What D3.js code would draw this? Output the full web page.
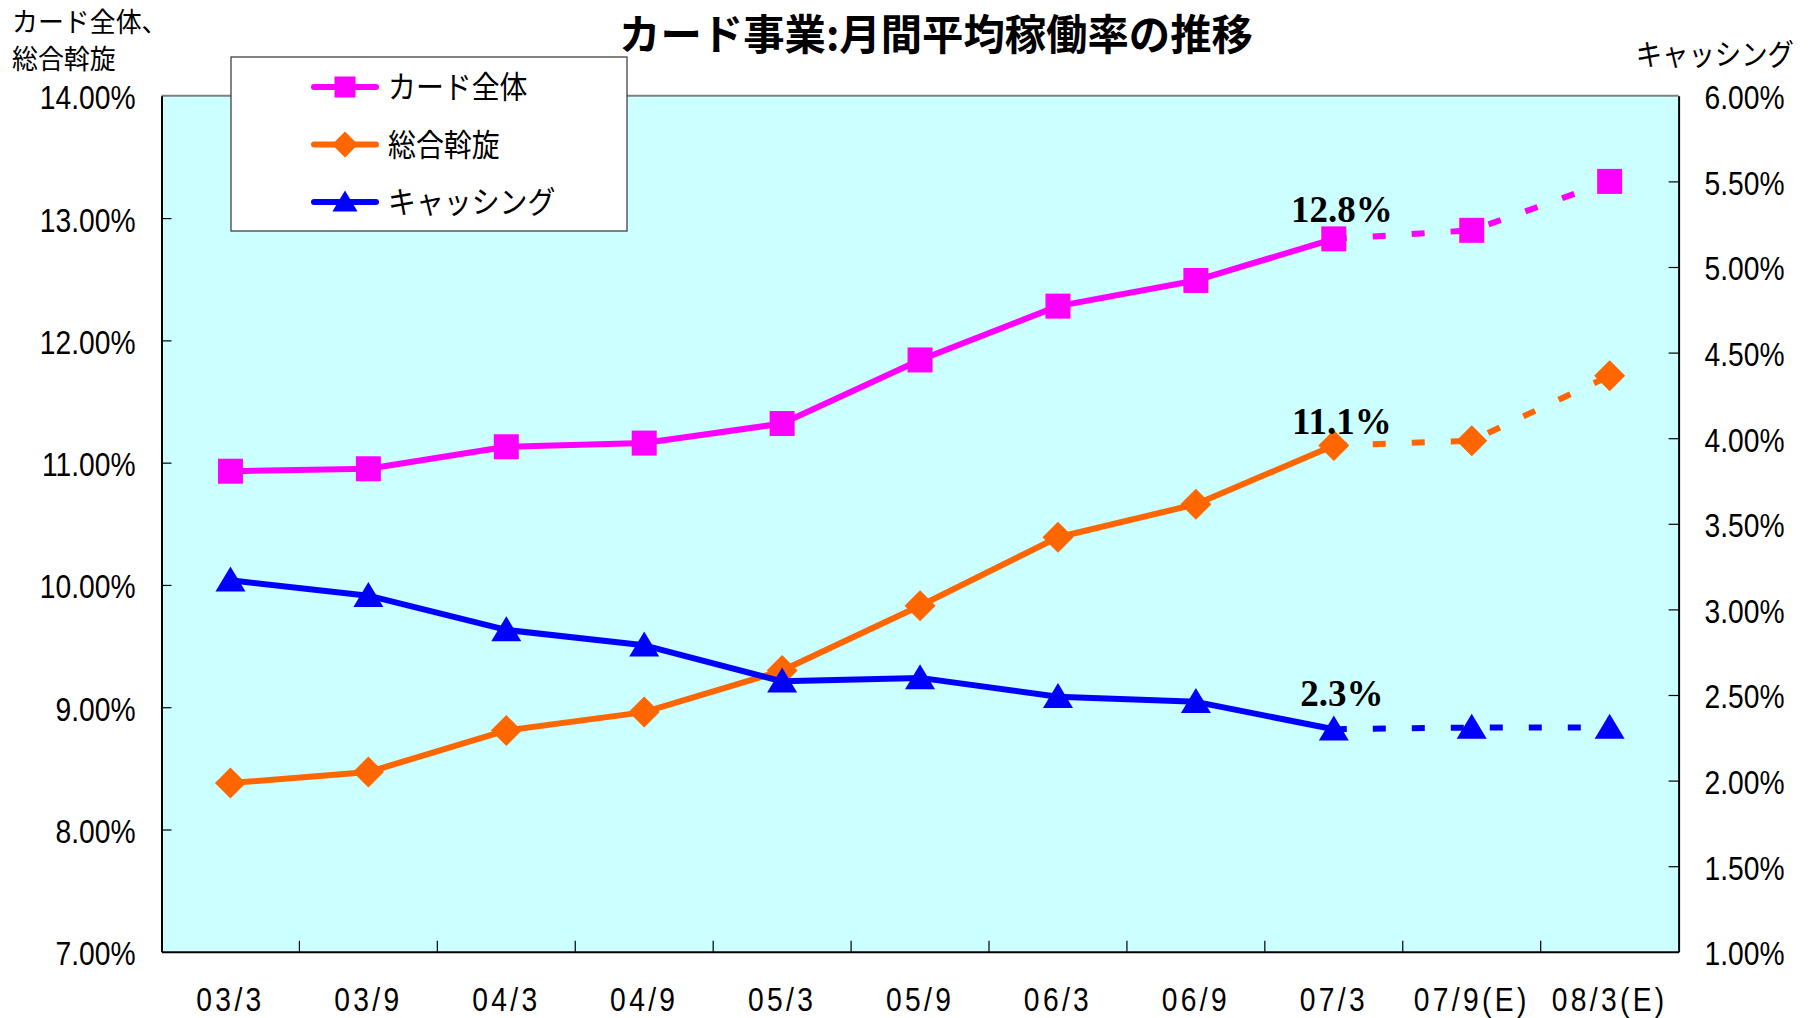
<!DOCTYPE html>
<html><head><meta charset="utf-8">
<script src="https://cdn.jsdelivr.net/npm/d3@7/dist/d3.min.js"></script>
<style>
body{margin:0;background:#fff;}
svg{display:block;}
</style></head>
<body>
<svg id="c" width="1809" height="1018"></svg>
<script>
const categories = ["03/3","03/9","04/3","04/9","05/3","05/9","06/3","06/9","07/3","07/9(E)","08/3(E)"];
const cardTotal = [10.93,10.95,11.13,11.16,11.32,11.84,12.28,12.49,12.83,12.90,13.30];
const generalCredit = [8.38,8.47,8.81,8.96,9.30,9.83,10.39,10.66,11.14,11.18,11.71];
const cashing = [3.17,3.08,2.88,2.79,2.58,2.60,2.49,2.46,2.30,2.31,2.31];
const leftTicks = [7,8,9,10,11,12,13,14];
const rightTicks = [1,1.5,2,2.5,3,3.5,4,4.5,5,5.5,6];
const actualCount = 9; // first 9 points are actual, rest estimates
const seriesNames = ["カード全体","総合斡旋","キャッシング"];
const seriesColors = ["#FF00FF","#FF6600","#0000FF"];
const markerTypes = ["square","diamond","triangle"];
const callouts = ["12.8%","11.1%","2.3%"];
const leftAxisTitle = ["カード全体、","総合斡旋"];
const rightAxisTitle = "キャッシング";

const svg = d3.select("#c");
const L = 161.5, R = 1678.6, T = 95.8, B = 951.8;
const x = d3.scaleBand().domain(categories).range([L,R]);
const bw = x.bandwidth();
const cx = c => x(c) + bw/2;
const yL = d3.scaleLinear().domain([7,14]).range([B,T]);
const yR = d3.scaleLinear().domain([1,6]).range([B,T]);

const tickFont = "'Liberation Sans',Arial,sans-serif";
const jpFont = "'Noto Sans CJK JP','Noto Sans CJK SC',sans-serif";
const SX = 0.83; // horizontal condensing of tick labels

// plot background
svg.append("rect").attr("x",L).attr("y",T).attr("width",R-L).attr("height",B-T).attr("fill","#CCFFFF");
// top border gray
svg.append("line").attr("x1",L).attr("x2",R).attr("y1",T).attr("y2",T).attr("stroke","#808080").attr("stroke-width",2);

// left axis
const gl = svg.append("g").attr("transform",`translate(${L},0)`)
  .call(d3.axisLeft(yL).tickValues(leftTicks).tickSizeInner(-10).tickSizeOuter(0).tickPadding(26)
    .tickFormat(d=>d.toFixed(2)+"%"));
// right axis
const gr = svg.append("g").attr("transform",`translate(${R},0)`)
  .call(d3.axisRight(yR).tickValues(rightTicks).tickSizeInner(-10).tickSizeOuter(0).tickPadding(26)
    .tickFormat(d=>d.toFixed(2)+"%"));
[gl,gr].forEach((g,k)=>{
  g.select(".domain").attr("stroke","#000").attr("stroke-width",2);
  g.selectAll(".tick line").attr("stroke","#000").attr("stroke-width",1.2);
  g.selectAll(".tick text").attr("font-family",tickFont).attr("font-size",34).attr("fill","#000").attr("dy","0.38em")
    .attr("x",(k===0?-26:26)/SX).attr("transform",`scale(${SX},1)`);
});
gl.selectAll(".tick line").filter(d=>d===14||d===7).remove();
gr.selectAll(".tick line").filter(d=>d===6||d===1).remove();

// bottom axis
const gb = svg.append("g").attr("transform",`translate(0,${B})`)
  .call(d3.axisBottom(x).tickSize(0).tickPadding(35));
gb.select(".domain").attr("stroke","#000").attr("stroke-width",2);
gb.selectAll(".tick text").attr("font-family",tickFont).attr("font-size",34).attr("fill","#000")
  .attr("letter-spacing","4px").attr("transform",`scale(${SX},1)`);
// category boundary ticks (inside)
svg.append("g").selectAll("line").data(categories.slice(1)).join("line")
  .attr("x1",d=>x(d)).attr("x2",d=>x(d)).attr("y1",B).attr("y2",B-11)
  .attr("stroke","#000").attr("stroke-width",1.2);

// series
const allSeries = [
  {vals:cardTotal, y:yL},
  {vals:generalCredit, y:yL},
  {vals:cashing, y:yR}
];
function marker(g, type, color, size){
  if(type==="square"){
    g.append("rect").attr("x",-size/2).attr("y",-size/2).attr("width",size).attr("height",size).attr("fill",color);
  } else if(type==="diamond"){
    const s=size*0.62;
    g.append("path").attr("d",`M0,${-s}L${s},0L0,${s}L${-s},0Z`).attr("fill",color);
  } else {
    const w=size*0.6, h=size*1.0;
    g.append("path").attr("d",`M0,${-h*0.55}L${w},${h*0.45}L${-w},${h*0.45}Z`).attr("fill",color);
  }
}
allSeries.forEach((s,i)=>{
  const pts = categories.map((c,j)=>[cx(c), s.y(s.vals[j])]);
  const line = d3.line();
  svg.append("path").attr("d",line(pts.slice(0,actualCount)))
    .attr("fill","none").attr("stroke",seriesColors[i]).attr("stroke-width",6).attr("stroke-linejoin","round");
  svg.append("path").attr("d",line(pts.slice(actualCount-1)))
    .attr("fill","none").attr("stroke",seriesColors[i]).attr("stroke-width",6).attr("stroke-dasharray","13,26");
  pts.forEach(p=>{
    const g = svg.append("g").attr("transform",`translate(${p[0]},${p[1]})`);
    marker(g, markerTypes[i], seriesColors[i], 25);
  });
  const lp = pts[actualCount-1];
  const dyOff = [-17,-12,-23][i];
  svg.append("text").attr("x",lp[0]+8).attr("y",lp[1]+dyOff).attr("text-anchor","middle")
    .attr("font-family","'Liberation Serif','Times New Roman',serif").attr("font-weight","bold")
    .attr("font-size",37).attr("fill","#000").text(callouts[i]);
});

// legend
const lg = svg.append("g");
lg.append("rect").attr("x",231).attr("y",57).attr("width",396).attr("height",174)
  .attr("fill","#fff").attr("stroke","#333").attr("stroke-width",1.2);
seriesNames.forEach((n,i)=>{
  const yy = 87 + i*57.5;
  lg.append("line").attr("x1",314).attr("x2",376).attr("y1",yy).attr("y2",yy)
    .attr("stroke",seriesColors[i]).attr("stroke-width",6).attr("stroke-linecap","round");
  const g = lg.append("g").attr("transform",`translate(345,${yy})`);
  marker(g, markerTypes[i], seriesColors[i], 21);
  lg.append("text").attr("x",388/0.9).attr("y",yy).attr("dy","0.36em").attr("transform","scale(0.9,1)")
    .attr("font-family",jpFont).attr("font-size",31).attr("fill","#000").text(n);
});

// titles
svg.append("text").attr("x",936/0.985).attr("y",50).attr("text-anchor","middle").attr("transform","scale(0.985,1)")
  .attr("font-family",jpFont).attr("font-weight","bold").attr("font-size",42).attr("fill","#000")
  .text("カード事業:月間平均稼働率の推移");
leftAxisTitle.forEach((t,i)=>{
  svg.append("text").attr("x",12/0.96).attr("y",32+i*37).attr("transform","scale(0.96,1)")
    .attr("font-family",jpFont).attr("font-size",27).attr("fill","#000").text(t);
});
svg.append("text").attr("x",1794/0.88).attr("y",65).attr("text-anchor","end").attr("transform","scale(0.88,1)")
  .attr("font-family",jpFont).attr("font-size",30).attr("fill","#000").text(rightAxisTitle);
</script>
</body></html>
